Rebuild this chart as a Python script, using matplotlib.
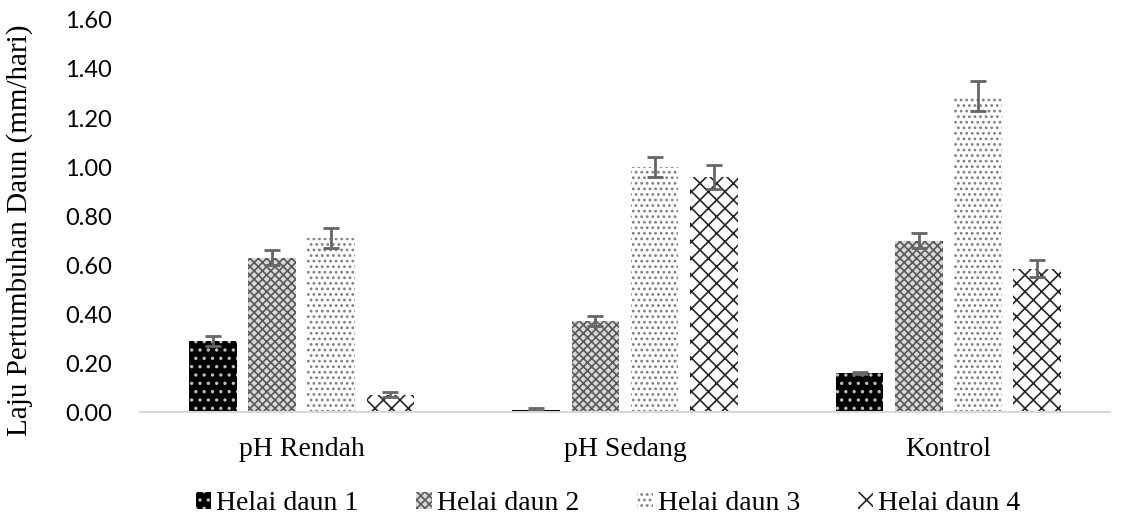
import matplotlib.pyplot as plt
import numpy as np

# data
categories = ['pH Rendah', 'pH Sedang', 'Kontrol']
series = ['Helai daun 1', 'Helai daun 2', 'Helai daun 3', 'Helai daun 4']
daun1 = [0.29, 0.01, 0.16]
daun2 = [0.63, 0.37, 0.70]
daun3 = [0.71, 1.00, 1.29]
daun4 = [0.07, 0.96, 0.585]
err1 = [0.02, 0.005, 0.005]
err2 = [0.03, 0.02, 0.03]
err3 = [0.04, 0.04, 0.06]
err4 = [0.01, 0.05, 0.035]
yticks = [0.0, 0.2, 0.4, 0.6, 0.8, 1.0, 1.2, 1.4, 1.6]

values = [daun1, daun2, daun3, daun4]
errors = [err1, err2, err3, err4]
styles = [
    dict(color='black', edgecolor='#bfbfbf', hatch='..'),
    dict(color='#d9d9d9', edgecolor='#595959', hatch='xxxx'),
    dict(color='white', edgecolor='#7f7f7f', hatch='...'),
    dict(color='white', edgecolor='#262626', hatch='xx'),
]

plt.rcParams['hatch.linewidth'] = 1.2
fig = plt.figure(figsize=(11.26, 5.18), dpi=100)
ax = fig.add_axes([0.1243, 0.2046, 0.8615, 0.7568])

x = np.arange(len(categories))
width = 0.147
step = 0.183
handles = []
for i, (vals, errs, st) in enumerate(zip(values, errors, styles)):
    pos = x + (i - 1.5) * step
    b = ax.bar(pos, vals, width, label=series[i], linewidth=0, **st)
    ax.errorbar(pos, vals, yerr=errs, fmt='none', ecolor='#666666',
                elinewidth=2, capsize=6, capthick=2)
    handles.append(b)

ax.set_ylim(0, 1.6)
ax.set_xlim(-0.5, 2.5)
ax.set_yticks(yticks)
ax.set_yticklabels([f'{t:.2f}' for t in yticks], family='Lato', fontsize=17)
ax.set_xticks(x)
ax.set_xticklabels(categories, family='Liberation Serif', fontsize=20)
ax.tick_params(axis='y', length=0, pad=20)
ax.tick_params(axis='x', length=0, pad=18)
for s in ['top', 'right', 'left']:
    ax.spines[s].set_visible(False)
ax.spines['bottom'].set_color('#d9d9d9')
ax.spines['bottom'].set_linewidth(1.5)

ax.set_ylabel('Laju Pertumbuhan Daun (mm/hari)', family='Liberation Serif',
              fontsize=21)
ax.yaxis.set_label_coords(-0.110, 0.464)

fig.legend(handles=handles, labels=series, loc='center', ncol=4,
           bbox_to_anchor=(0.54, 0.028), frameon=False,
           prop={'family': 'Liberation Serif', 'size': 20},
           handlelength=0.55, handleheight=0.55, handletextpad=0.18,
           columnspacing=2.1, borderpad=0)

plt.savefig('out.png', dpi=100)
plt.close()
